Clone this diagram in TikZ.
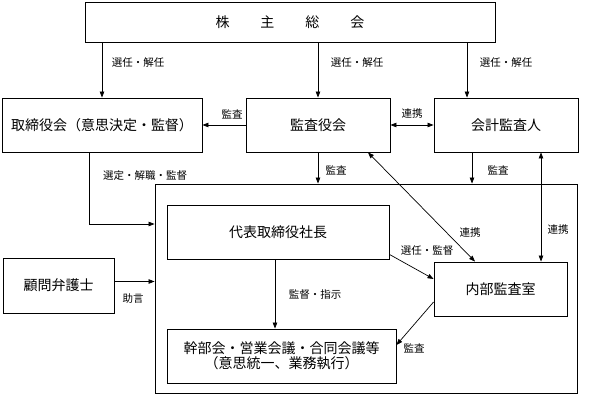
\documentclass[tikz,border=0pt]{standalone}
\usepackage{fontspec}
\setmainfont{Noto Sans CJK JP}
\usetikzlibrary{arrows.meta}
\begin{document}
\begin{tikzpicture}[x=1pt,y=-1pt,
  box/.style={draw,line width=0.9pt,inner sep=0pt,align=center,font=\fontsize{14}{15.5}\selectfont},
  lbl/.style={inner sep=1pt,font=\fontsize{10.5}{12}\selectfont},
  conn/.style={line width=0.7pt,-{Triangle[length=6pt,width=4.5pt]}},
  both/.style={line width=0.7pt,{Triangle[length=6pt,width=4.5pt]}-{Triangle[length=6pt,width=4.5pt]}}]
\useasboundingbox (0,0) rectangle (589,398);
\node[box,minimum width=410pt,minimum height=40pt] (kabu) at (290,22) {株\hspace{31pt}主\hspace{31pt}総\hspace{31pt}会};
\node[box,minimum width=200pt,minimum height=54pt] (tori) at (102,125) {取締役会（意思決定・監督）};
\node[box,minimum width=144pt,minimum height=54pt] (kansa) at (318,125) {監査役会};
\node[box,minimum width=144pt,minimum height=54pt] (kaikei) at (506,125) {会計監査人};
\node[box,minimum width=422pt,minimum height=209pt] (exec) at (366,288.5) {};
\node[box,minimum width=222pt,minimum height=54pt] (daihyo) at (278,232) {代表取締役社長};
\node[box,minimum width=111pt,minimum height=55pt] (komon) at (58.5,285.5) {顧問弁護士};
\node[box,minimum width=229pt,minimum height=54pt] (kanbu) at (281.5,356) {幹部会・営業会議・合同会議等\\（意思統一、業務執行）};
\node[box,minimum width=133pt,minimum height=54pt] (naibu) at (500.5,289) {内部監査室};
\draw[conn] (tori.north |- kabu.south) -- (tori.north);
\draw[conn] (kansa.north |- kabu.south) -- (kansa.north);
\draw[conn] ([xshift=-39pt]kaikei.north |- kabu.south) -- ([xshift=-39pt]kaikei.north);
\draw[conn] (kansa.west) -- (tori.east);
\draw[both] (kansa.east) -- (kaikei.west);
\draw[conn] ([xshift=-13pt]tori.south) |- ([yshift=64.5pt]exec.west);
\draw[conn] ([yshift=4pt]komon.east) -- ([yshift=4pt]komon.east -| exec.west);
\draw[conn] (kansa.south) -- (kansa.south |- exec.north);
\draw[conn] ([xshift=-34pt]kaikei.south) -- ([xshift=-34pt]kaikei.south |- exec.north);
\draw[both] ([xshift=50pt]kansa.south) -- ([xshift=-25.5pt]naibu.north);
\draw[both] ([xshift=35pt]kaikei.south) -- ([xshift=35pt]kaikei.south |- naibu.north);
\draw[conn] ([xshift=-3pt]daihyo.south) -- ([xshift=-3pt]daihyo.south |- kanbu.north);
\draw[conn] ([yshift=5pt]daihyo.south east) -- ([yshift=10pt]naibu.west);
\draw[conn] ([yshift=-13pt]naibu.west) -- ([yshift=11pt]kanbu.east);
\node[lbl] (l1) at (138,63) {選任・解任};
\node[lbl] (l2) at (357,63) {選任・解任};
\node[lbl] (l3) at (506,63) {選任・解任};
\node[lbl] (l4) at (232,114) {監査};
\node[lbl] (l5) at (412,114) {連携};
\node[lbl] (l6) at (145,176) {選定・解職・監督};
\node[lbl] (l7) at (336,170) {監査};
\node[lbl] (l8) at (498,170) {監査};
\node[lbl] (l9) at (470,233) {連携};
\node[lbl] (l10) at (558,230) {連携};
\node[lbl] (l11) at (427,251) {選任・監督};
\node[lbl] (l12) at (315,295) {監督・指示};
\node[lbl] (l13) at (133,299) {助言};
\node[lbl] (l14) at (414,348) {監査};
\end{tikzpicture}
\end{document}
